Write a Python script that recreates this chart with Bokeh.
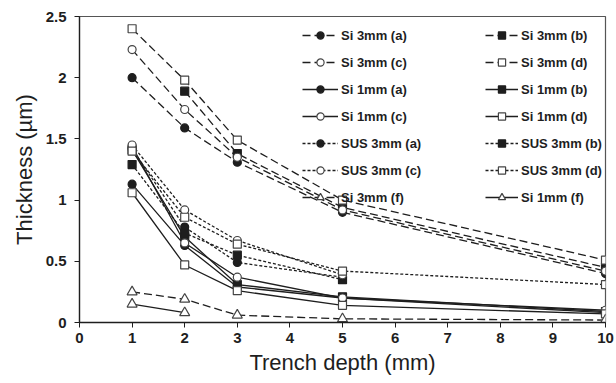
import math
from bokeh.plotting import figure
from bokeh.models import Legend, LegendItem, FixedTicker, Range1d
from bokeh.embed import file_html
from bokeh.resources import INLINE

nan = float("nan")

# ---- data ----
depth = [1, 2, 3, 5, 10]
x_ticks = [0, 1, 2, 3, 4, 5, 6, 7, 8, 9, 10]
y_ticks = [0, 0.5, 1, 1.5, 2, 2.5]

si3_a = [2.00, 1.59, 1.31, 0.90, 0.40]
si3_b = [nan, 1.89, 1.38, 0.94, 0.45]
si3_c = [2.23, 1.74, 1.35, 0.92, 0.42]
si3_d = [2.40, 1.98, 1.49, 1.00, 0.51]
si1_a = [1.13, 0.63, 0.29, 0.20, 0.08]
si1_b = [1.41, 0.70, 0.31, 0.21, 0.09]
si1_c = [1.44, 0.65, 0.37, 0.20, 0.10]
si1_d = [1.06, 0.47, 0.26, 0.14, 0.07]
sus3_a = [1.42, 0.78, 0.49, 0.37, nan]
sus3_b = [1.29, 0.73, 0.55, 0.35, nan]
sus3_c = [1.45, 0.92, 0.67, 0.39, nan]
sus3_d = [1.40, 0.86, 0.64, 0.42, 0.31]
si3_f = [0.25, 0.19, 0.06, 0.03, 0.02]
si1_f = [0.15, 0.08, nan, nan, nan]

labels = ["Si 3mm (a)", "Si 3mm (b)", "Si 3mm (c)", "Si 3mm (d)",
          "Si 1mm (a)", "Si 1mm (b)", "Si 1mm (c)", "Si 1mm (d)",
          "SUS 3mm (a)", "SUS 3mm (b)", "SUS 3mm (c)", "SUS 3mm (d)",
          "Si 3mm (f)", "Si 1mm (f)"]
series = [si3_a, si3_b, si3_c, si3_d, si1_a, si1_b, si1_c, si1_d,
          sus3_a, sus3_b, sus3_c, sus3_d, si3_f, si1_f]

# ---- styles ----
LONG = "8 4"
SHORT = "3 2"
SOLID = "solid"
dashes = [LONG] * 4 + [SOLID] * 4 + [SHORT] * 4 + [LONG, SOLID]
markers = ["circle", "square", "circle", "square"] * 3 + ["triangle", "triangle"]
filled = [True, True, False, False] * 3 + [False, False]

INK = "#1e1e1e"
FONT = "Liberation Sans"

p = figure(width=616, height=383, output_backend="svg", toolbar_location=None,
           x_range=Range1d(0, 10), y_range=Range1d(0, 2.5),
           min_border_left=79, min_border_right=11, min_border_top=16,
           min_border_bottom=61)
p.xgrid.visible = False
p.ygrid.visible = False
p.outline_line_color = "#555555"
p.outline_line_width = 1.2
p.background_fill_color = "white"
p.border_fill_color = "white"

for ax, ticks in ((p.xaxis[0], x_ticks), (p.yaxis[0], y_ticks)):
    ax.ticker = FixedTicker(ticks=ticks)
    ax.minor_tick_line_color = None
    ax.major_tick_in = 0
    ax.major_tick_out = 5
    ax.axis_line_color = INK
    ax.major_tick_line_color = INK
    ax.axis_line_width = 1.3
    ax.major_label_text_font = FONT
    ax.major_label_text_font_style = "bold"
    ax.major_label_text_font_size = "15px"
    ax.major_label_text_color = INK
    ax.axis_label_text_font = FONT
    ax.axis_label_text_font_style = "normal"
    ax.axis_label_text_font_size = "22px"
    ax.axis_label_text_color = INK
p.yaxis[0].major_label_overrides = {0: "0", 0.5: "0.5", 1: "1", 1.5: "1.5", 2: "2", 2.5: "2.5"}
p.yaxis[0].major_label_standoff = 8
p.xaxis[0].major_label_standoff = 5
p.xaxis[0].axis_label = "Trench depth (mm)"
p.yaxis[0].axis_label = "Thickness (µm)"
p.xaxis[0].axis_label_standoff = 4
p.yaxis[0].axis_label_standoff = 6

items = []
for lab, ys, dash, mk, fl in zip(labels, series, dashes, markers, filled):
    lr = p.line(depth, ys, line_color=INK, line_width=1.3, line_dash=dash)
    size = 10 if mk == "triangle" else 8
    sr = p.scatter(depth, ys, marker=mk, size=size,
                   fill_color=INK if fl else "white",
                   line_color=INK if fl else "#444444", line_width=1.2)
    items.append(LegendItem(label=lab, renderers=[lr, sr]))

def make_legend(its, loc, gw):
    lg = Legend(items=its, location=loc, orientation="vertical")
    lg.label_text_font = FONT
    lg.label_text_font_style = "bold"
    lg.label_text_font_size = "13px"
    lg.label_text_color = INK
    lg.glyph_width = gw
    lg.glyph_height = 18
    lg.label_height = 18
    lg.label_standoff = 3
    lg.spacing = 9
    lg.padding = 0
    lg.margin = 0
    lg.border_line_alpha = 0
    lg.background_fill_alpha = 0
    return lg

left_items = items[0::2]
right_items = items[1::2]
p.add_layout(make_legend(left_items, (223, 116), 36), "center")
p.add_layout(make_legend(right_items, (406, 116), 33), "center")

open("out.html", "w").write(file_html(p, INLINE))
